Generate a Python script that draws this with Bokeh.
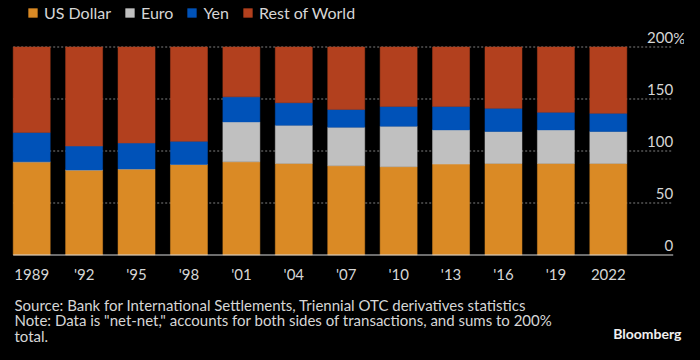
from bokeh.plotting import figure
from bokeh.models import ColumnDataSource, Range1d, Legend, LegendItem
from bokeh.core.properties import value
from bokeh.embed import file_html
from bokeh.resources import INLINE

# ---- data ----
years = ["1989", "'92", "'95", "'98", "'01", "'04", "'07", "'10", "'13", "'16", "'19", "2022"]
usd = [89.6, 81.7, 82.7, 87.1, 89.6, 88.0, 85.8, 84.9, 87.4, 88.0, 88.0, 88.0]
euro = [0.0, 0.0, 0.0, 0.0, 38.4, 36.8, 37.1, 39.0, 32.9, 30.8, 32.3, 30.8]
yen = [28.3, 23.1, 25.0, 22.2, 24.1, 21.6, 17.1, 19.0, 22.6, 22.2, 16.9, 17.4]
rest = [82.1, 95.2, 92.3, 90.7, 47.9, 53.6, 60.0, 57.1, 57.1, 59.0, 62.8, 63.8]
series = ["US Dollar", "Euro", "Yen", "Rest of World"]
colors = ["#DA8A25", "#C0C0C0", "#0052B8", "#B2401E"]
y_ticks = [0, 50, 100, 150, 200]
y_tick_labels = ["0", "50", "100", "150", "200"]
grid_ticks = [50, 100, 150, 200]

FONT = "Lato"
TXT = "#D6D6D6"
W, H = 684, 344

# pixel layout -> data coordinates (whole canvas is the plot frame)
STEP = 52.42          # px between bar centres
C0 = 31.2             # px of first bar centre
PY0, PY200 = 254.5, 46.5
UPX = (PY0 - PY200) / 200.0


def X(px):
    return (px - C0) / STEP


def Y(py):
    return (PY0 - py) / UPX


pos = list(range(len(years)))
src = ColumnDataSource(dict(x=pos, **{"US Dollar": usd, "Euro": euro, "Yen": yen, "Rest of World": rest}))

p = figure(width=W, height=H, output_backend="svg", toolbar_location=None,
           x_range=Range1d(X(0), X(W)), y_range=Range1d(Y(H), Y(0)),
           min_border=0, x_axis_location=None, y_axis_location=None)
p.background_fill_color = "#000000"
p.border_fill_color = "#000000"
p.outline_line_color = None
p.grid.visible = False

x_left, x_right = X(C0 - 18.5), X(672.7)

# dotted grid lines (behind bars)
p.segment(x0=[x_left] * len(grid_ticks), x1=[x_right] * len(grid_ticks), y0=grid_ticks, y1=grid_ticks,
          line_color="#808080", line_dash="2 2", line_width=1)

rs = p.vbar_stack(series, x="x", width=37 / STEP, source=src, color=colors,
                  line_color=colors, line_width=0.5)

# baseline
p.segment(x0=[x_left], x1=[x_right], y0=[0], y1=[0], line_color="#D9D9D9", line_width=1.2)

# y tick labels (right side, above grid lines)
p.text(x=[x_right] * len(y_ticks), y=y_ticks, text=y_tick_labels, text_align="right",
       text_baseline="alphabetic", y_offset=-9.5, text_font=value(FONT),
       text_font_size="15px", text_color=TXT)
p.text(x=[x_right], y=[200], text=["%"], text_align="left", text_baseline="alphabetic",
       y_offset=-9.5, text_font=value(FONT), text_font_size="15px", text_color=TXT)

# x labels
p.text(x=pos, y=[Y(273.5)] * len(pos), text=years, text_align="center", text_baseline="alphabetic",
       text_font=value(FONT), text_font_size="15px", text_color=TXT)

# legend
lg = Legend(items=[LegendItem(label=s, renderers=[r]) for s, r in zip(series, rs)],
            location=(27, H - 22), orientation="horizontal")
lg.background_fill_alpha = 0
lg.border_line_color = None
lg.padding = 0
lg.margin = 0
lg.spacing = 13
lg.glyph_width = 11
lg.glyph_height = 11
lg.label_standoff = 6
lg.label_text_font = FONT
lg.label_text_font_size = "16px"
lg.label_text_color = TXT
p.add_layout(lg, "center")

# footer
foot = ["Source: Bank for International Settlements, Triennial OTC derivatives statistics",
        'Note: Data is "net-net," accounts for both sides of transactions, and sums to 200%',
        "total."]
foot_py = [304.0, 319.75, 335.5]
p.text(x=[X(14)] * 3, y=[Y(v) for v in foot_py], text=foot, text_align="left",
       text_baseline="alphabetic", text_font=value(FONT), text_font_size="15px", text_color=TXT)
p.text(x=[X(681)], y=[Y(333)], text=["Bloomberg"], text_align="right", text_baseline="alphabetic",
       text_font=value(FONT), text_font_size="14px", text_font_style="bold", text_color="#F0F0F0")

html = file_html(p, INLINE)
html = html.replace("<head>", "<head><style>body{background:#000000;}</style>", 1)
open("out.html", "w").write(html)
